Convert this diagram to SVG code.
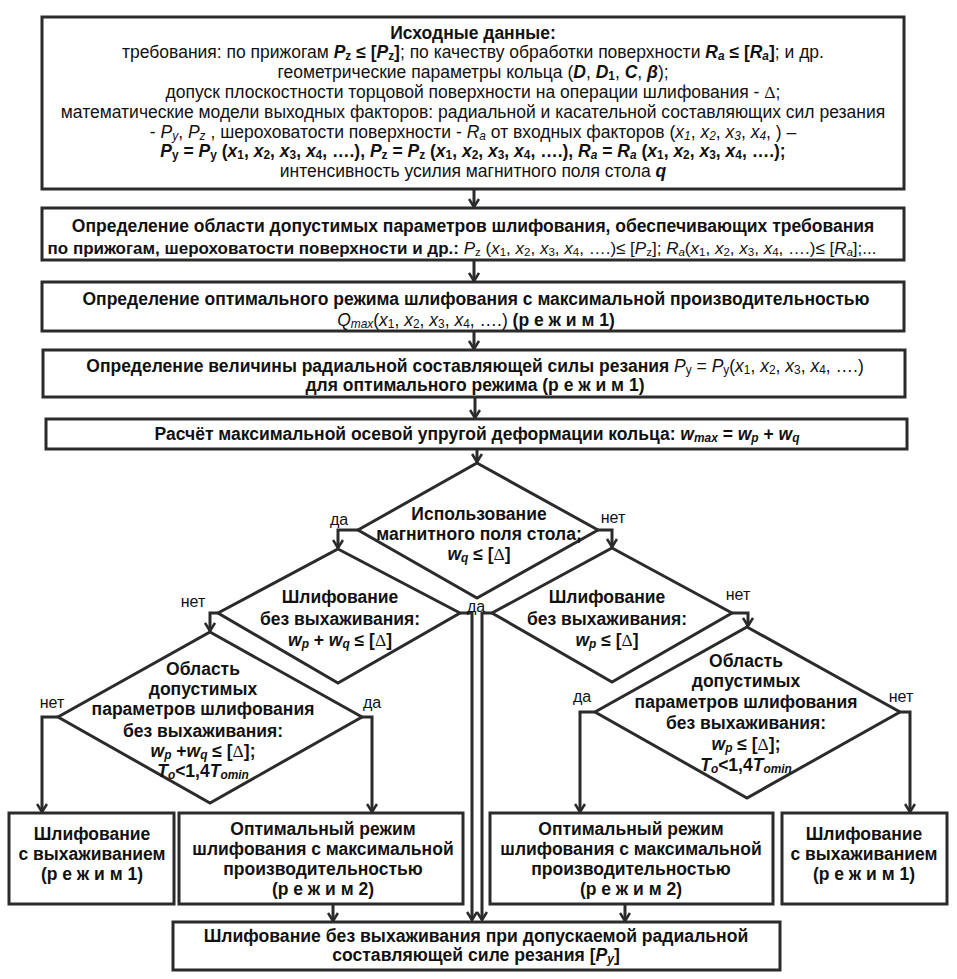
<svg xmlns="http://www.w3.org/2000/svg" width="957" height="979" viewBox="0 0 957 979">
<defs>
<style>
.t{font-family:"Liberation Sans",Arial,sans-serif;fill:#111;text-anchor:middle}
.f16{font-size:17.5px}
.f17{font-size:17.6px}
.f18{font-size:17.5px}
.b{font-weight:bold}
.i{font-style:italic}
.sub{font-size:68%;baseline-shift:-2px}
.dl{font-family:"Liberation Serif",serif;font-weight:normal;font-style:normal}
.box{fill:#fff;stroke:#2b2b2b;stroke-width:3}
.con{fill:none;stroke:#2b2b2b;stroke-width:3}
.lbl{font-family:"Liberation Sans",Arial,sans-serif;font-size:16px;fill:#111;text-anchor:middle}
</style>
<marker id="ah" viewBox="0 0 10 12" refX="9" refY="6" markerWidth="10" markerHeight="12" markerUnits="userSpaceOnUse" orient="auto">
<path d="M1,1 L9,6 L1,11" fill="none" stroke="#2b2b2b" stroke-width="2.6"/>
</marker>
</defs>
<rect width="957" height="979" fill="#fff"/>

<g id="n-input">
<rect class="box" x="42" y="17" width="862" height="172"/>
<text class="t f16" x="473" y="38.5"><tspan class="b">Исходные данные:</tspan></text>
<text class="t f16" x="473" y="58.3">требования: по прижогам <tspan class="b i">P</tspan><tspan class="b sub">z</tspan><tspan class="b"> ≤ [</tspan><tspan class="b i">P</tspan><tspan class="b sub">z</tspan><tspan class="b">]</tspan>; по качеству обработки поверхности <tspan class="b i">R</tspan><tspan class="b i sub">a</tspan><tspan class="b"> ≤ [</tspan><tspan class="b i">R</tspan><tspan class="b i sub">a</tspan><tspan class="b">]</tspan>; и др.</text>
<text class="t f16" x="473" y="78.1">геометрические параметры кольца (<tspan class="b i">D</tspan>, <tspan class="b i">D</tspan><tspan class="b sub">1</tspan>, <tspan class="b i">C</tspan>, <tspan class="b i">β</tspan>);</text>
<text class="t f16" x="473" y="97.9">допуск плоскостности торцовой поверхности на операции шлифования - <tspan class="dl">Δ</tspan>;</text>
<text class="t f16" x="473" y="117.7">математические модели выходных факторов: радиальной и касательной составляющих сил резания</text>
<text class="t f16" x="473" y="137.5">- <tspan class="i">P</tspan><tspan class="i sub">y</tspan>, <tspan class="i">P</tspan><tspan class="i sub">z</tspan> , шероховатости поверхности - <tspan class="i">R</tspan><tspan class="i sub">a</tspan> от входных факторов (<tspan class="i">x</tspan><tspan class="i sub">1</tspan>, <tspan class="i">x</tspan><tspan class="i sub">2</tspan>, <tspan class="i">x</tspan><tspan class="i sub">3</tspan>, <tspan class="i">x</tspan><tspan class="i sub">4</tspan>, ) –</text>
<text class="t f16 b" x="473" y="157.3"><tspan class="i">P</tspan><tspan class="sub">y</tspan> = <tspan class="i">P</tspan><tspan class="sub">y</tspan> (<tspan class="i">x</tspan><tspan class="sub">1</tspan>, <tspan class="i">x</tspan><tspan class="sub">2</tspan>, <tspan class="i">x</tspan><tspan class="sub">3</tspan>, <tspan class="i">x</tspan><tspan class="sub">4</tspan>, ….), <tspan class="i">P</tspan><tspan class="sub">z</tspan> = <tspan class="i">P</tspan><tspan class="sub">z</tspan> (<tspan class="i">x</tspan><tspan class="sub">1</tspan>, <tspan class="i">x</tspan><tspan class="sub">2</tspan>, <tspan class="i">x</tspan><tspan class="sub">3</tspan>, <tspan class="i">x</tspan><tspan class="sub">4</tspan>, ….), <tspan class="i">R</tspan><tspan class="i sub">a</tspan> = <tspan class="i">R</tspan><tspan class="i sub">a</tspan> (<tspan class="i">x</tspan><tspan class="sub">1</tspan>, <tspan class="i">x</tspan><tspan class="sub">2</tspan>, <tspan class="i">x</tspan><tspan class="sub">3</tspan>, <tspan class="i">x</tspan><tspan class="sub">4</tspan>, ….);</text>
<text class="t f16" x="473" y="177.1">интенсивность усилия магнитного поля стола <tspan class="b i">q</tspan></text>
</g>

<g id="n-region">
<rect class="box" x="42" y="208" width="862" height="52"/>
<text class="t f16 b" x="473" y="232">Определение области допустимых параметров шлифования, обеспечивающих требования</text>
<text class="t" x="462" y="254" style="font-size:17px"><tspan class="b">по прижогам, шероховатости поверхности и др.:</tspan> <tspan class="i">P</tspan><tspan class="sub">z</tspan> (<tspan class="i">x</tspan><tspan class="sub">1</tspan>, <tspan class="i">x</tspan><tspan class="sub">2</tspan>, <tspan class="i">x</tspan><tspan class="sub">3</tspan>, <tspan class="i">x</tspan><tspan class="sub">4</tspan>, ….)≤ [<tspan class="i">P</tspan><tspan class="sub">z</tspan>]; <tspan class="i">R</tspan><tspan class="i sub">a</tspan>(<tspan class="i">x</tspan><tspan class="sub">1</tspan>, <tspan class="i">x</tspan><tspan class="sub">2</tspan>, <tspan class="i">x</tspan><tspan class="sub">3</tspan>, <tspan class="i">x</tspan><tspan class="sub">4</tspan>, ….)≤ [<tspan class="i">R</tspan><tspan class="i sub">a</tspan>];...</text>
</g>

<g id="n-optimal">
<rect class="box" x="42" y="282" width="862" height="49"/>
<text class="t f16 b" x="476" y="305">Определение оптимального режима шлифования с максимальной производительностью</text>
<text class="t f16" x="476" y="326"><tspan class="i">Q</tspan><tspan class="i sub">max</tspan>(<tspan class="i">x</tspan><tspan class="sub">1</tspan>, <tspan class="i">x</tspan><tspan class="sub">2</tspan>, <tspan class="i">x</tspan><tspan class="sub">3</tspan>, <tspan class="i">x</tspan><tspan class="sub">4</tspan>, ….) <tspan class="b">(р е ж и м 1)</tspan></text>
</g>

<g id="n-force">
<rect class="box" x="43" y="350" width="862" height="47"/>
<text class="t f16" x="475" y="372"><tspan class="b">Определение величины радиальной составляющей силы резания </tspan><tspan class="i">P</tspan><tspan class="sub">y</tspan> = <tspan class="i">P</tspan><tspan class="sub">y</tspan>(<tspan class="i">x</tspan><tspan class="sub">1</tspan>, <tspan class="i">x</tspan><tspan class="sub">2</tspan>, <tspan class="i">x</tspan><tspan class="sub">3</tspan>, <tspan class="i">x</tspan><tspan class="sub">4</tspan>, ….)</text>
<text class="t f16 b" x="475" y="391">для оптимального режима (р е ж и м 1)</text>
</g>

<g id="n-calc">
<rect class="box" x="46" y="419" width="861" height="30"/>
<text class="t f16 b" x="477" y="440">Расчёт максимальной осевой упругой деформации кольца: <tspan class="i">w</tspan><tspan class="i sub">max</tspan> = <tspan class="i">w</tspan><tspan class="i sub">p</tspan> + <tspan class="i">w</tspan><tspan class="i sub">q</tspan></text>
</g>

<g id="d-magnet">
<polygon class="box" points="477,463 598,530 477,598 358,530"/>
<text class="t f16 b" x="479" y="520">Использование</text>
<text class="t f16 b" x="479" y="540">магнитного поля стола;</text>
<text class="t f16 b" x="479" y="560"><tspan class="i">w</tspan><tspan class="i sub">q</tspan> ≤ [<tspan class="dl">Δ</tspan>]</text>
</g>

<g id="d-nospark-pq">
<polygon class="box" points="338,549 460,613 338,683 218,613"/>
<text class="t f16 b" x="340" y="603">Шлифование</text>
<text class="t f16 b" x="340" y="625">без выхаживания:</text>
<text class="t f16 b" x="340" y="646"><tspan class="i">w</tspan><tspan class="i sub">p</tspan> + <tspan class="i">w</tspan><tspan class="i sub">q</tspan> ≤ [<tspan class="dl">Δ</tspan>]</text>
</g>

<g id="d-nospark-p">
<polygon class="box" points="612,548 732,613 612,682 492,613"/>
<text class="t f16 b" x="607" y="603">Шлифование</text>
<text class="t f16 b" x="607" y="625">без выхаживания:</text>
<text class="t f16 b" x="607" y="646"><tspan class="i">w</tspan><tspan class="i sub">p</tspan> ≤ [<tspan class="dl">Δ</tspan>]</text>
</g>

<g id="d-region-left">
<polygon class="box" points="210,632 362,717 210,803 58,717"/>
<text class="t f16 b" x="203" y="675">Область</text>
<text class="t f16 b" x="203" y="695">допустимых</text>
<text class="t f16 b" x="203" y="715">параметров шлифования</text>
<text class="t f16 b" x="203" y="737">без выхаживания:</text>
<text class="t f16 b" x="203" y="757"><tspan class="i">w</tspan><tspan class="i sub">p</tspan> +<tspan class="i">w</tspan><tspan class="i sub">q</tspan> ≤ [<tspan class="dl">Δ</tspan>];</text>
<text class="t f16 b" x="203" y="777"><tspan class="i">T</tspan><tspan class="i sub">o</tspan>&lt;1,4<tspan class="i">T</tspan><tspan class="i sub">omin</tspan></text>
</g>

<g id="d-region-right">
<polygon class="box" points="747,627 900,712 747,798 595,712"/>
<text class="t f16 b" x="746" y="667">Область</text>
<text class="t f16 b" x="746" y="687">допустимых</text>
<text class="t f16 b" x="746" y="708">параметров шлифования</text>
<text class="t f16 b" x="746" y="729">без выхаживания:</text>
<text class="t f16 b" x="746" y="750"><tspan class="i">w</tspan><tspan class="i sub">p</tspan> ≤ [<tspan class="dl">Δ</tspan>];</text>
<text class="t f16 b" x="746" y="771"><tspan class="i">T</tspan><tspan class="i sub">o</tspan>&lt;1,4<tspan class="i">T</tspan><tspan class="i sub">omin</tspan></text>
</g>

<g id="n-spark-left">
<rect class="box" x="9" y="813" width="165" height="91"/>
<text class="t f18 b" x="92" y="840">Шлифование</text>
<text class="t f18 b" x="92" y="860">с выхаживанием</text>
<text class="t f18 b" x="92" y="880">(р е ж и м 1)</text>
</g>

<g id="n-opt2-left">
<rect class="box" x="179" y="813" width="284" height="91"/>
<text class="t f18 b" x="323" y="835">Оптимальный режим</text>
<text class="t f18 b" x="323" y="855">шлифования с максимальной</text>
<text class="t f18 b" x="323" y="875">производительностью</text>
<text class="t f18 b" x="323" y="895">(р е ж и м 2)</text>
</g>

<g id="n-opt2-right">
<rect class="box" x="490" y="813" width="283" height="91"/>
<text class="t f18 b" x="631" y="835">Оптимальный режим</text>
<text class="t f18 b" x="631" y="855">шлифования с максимальной</text>
<text class="t f18 b" x="631" y="875">производительностью</text>
<text class="t f18 b" x="631" y="895">(р е ж и м 2)</text>
</g>

<g id="n-spark-right">
<rect class="box" x="782" y="813" width="165" height="91"/>
<text class="t f18 b" x="864" y="840">Шлифование</text>
<text class="t f18 b" x="864" y="860">с выхаживанием</text>
<text class="t f18 b" x="864" y="880">(р е ж и м 1)</text>
</g>

<g id="n-final">
<rect class="box" x="173" y="922" width="607" height="48"/>
<text class="t f17 b" x="476" y="942">Шлифование без выхаживания при допускаемой радиальной</text>
<text class="t f17 b" x="476" y="961">составляющей силе резания [<tspan class="i">P</tspan><tspan class="i sub">y</tspan>]</text>
</g>

<g id="connectors">
<path class="con" d="M474,189 V207" marker-end="url(#ah)"/>
<path class="con" d="M474,260 V281" marker-end="url(#ah)"/>
<path class="con" d="M474,331 V349" marker-end="url(#ah)"/>
<path class="con" d="M475,397 V418" marker-end="url(#ah)"/>
<path class="con" d="M477,449 V462" marker-end="url(#ah)"/>
<path class="con" d="M358,530 H338 V548" marker-end="url(#ah)"/>
<path class="con" d="M598,530 H612 V547" marker-end="url(#ah)"/>
<path class="con" d="M218,613 H210 V631" marker-end="url(#ah)"/>
<path class="con" d="M460,613 H472 V920" marker-end="url(#ah)"/>
<path class="con" d="M492,613 H482 V920" marker-end="url(#ah)"/>
<path class="con" d="M732,613 H748 V626" marker-end="url(#ah)"/>
<path class="con" d="M58,717 H42 V812" marker-end="url(#ah)"/>
<path class="con" d="M362,717 H372 V812" marker-end="url(#ah)"/>
<path class="con" d="M595,712 H580 V812" marker-end="url(#ah)"/>
<path class="con" d="M900,712 H910 V812" marker-end="url(#ah)"/>
<path class="con" d="M333,904 V921" marker-end="url(#ah)"/>
<path class="con" d="M625,904 V921" marker-end="url(#ah)"/>
<text class="lbl" x="339" y="525">да</text>
<text class="lbl" x="613" y="523">нет</text>
<text class="lbl" x="476" y="612">да</text>
<text class="lbl" x="193" y="607">нет</text>
<text class="lbl" x="52" y="708">нет</text>
<text class="lbl" x="372" y="708">да</text>
<text class="lbl" x="738" y="600">нет</text>
<text class="lbl" x="582" y="702">да</text>
<text class="lbl" x="901" y="702">нет</text>
</g>
</svg>
